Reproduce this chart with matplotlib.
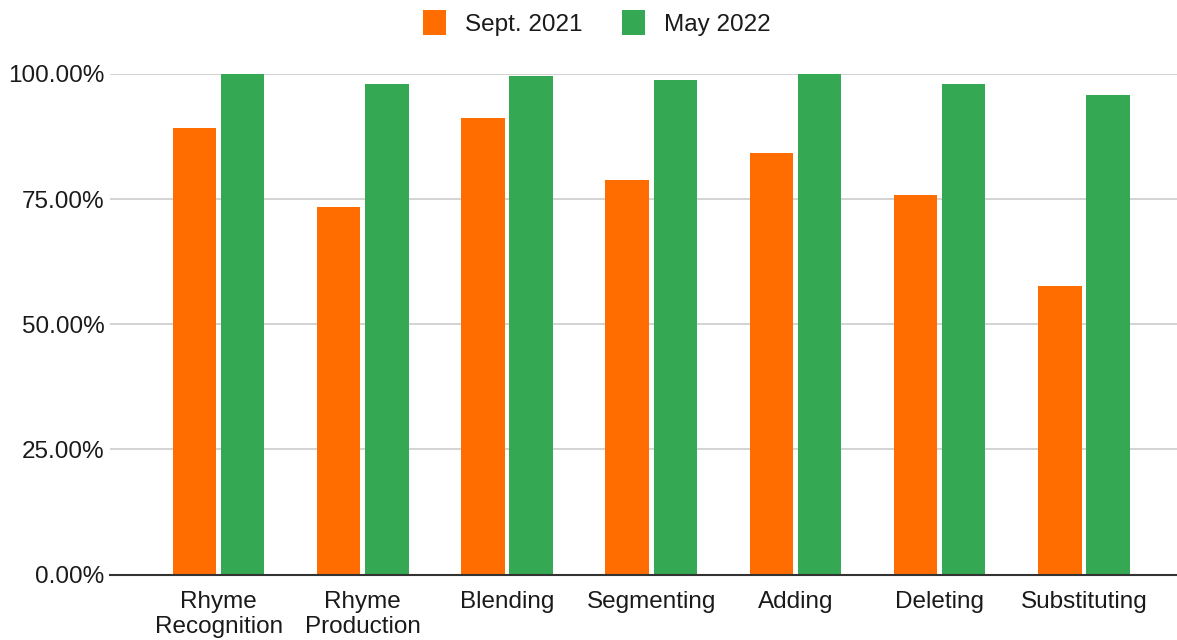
import matplotlib
matplotlib.use("Agg")
import matplotlib.pyplot as plt
import numpy as np
from matplotlib.ticker import FuncFormatter

categories = ["Rhyme\nRecognition", "Rhyme\nProduction", "Blending", "Segmenting",
              "Adding", "Deleting", "Substituting"]
sept_2021 = [89.2, 73.5, 91.2, 78.8, 84.2, 75.8, 57.7]
may_2022 = [100.0, 98.0, 99.6, 98.8, 100.0, 98.0, 95.8]
series_names = ["Sept. 2021", "May 2022"]
yticks = [0, 25, 50, 75, 100]

orange = "#FF6D01"
green = "#34A853"

plt.rcParams['font.family'] = ['Liberation Sans', 'DejaVu Sans']

fig = plt.figure(figsize=(11.77, 6.4), dpi=100)
ax = fig.add_axes([110/1177, 65.5/640, 1 - 110/1177, (574.5-74)/640])

x = np.arange(len(categories))
w = 0.302
off = 0.167
ax.bar(x - off, sept_2021, w, color=orange, label=series_names[0], zorder=3)
ax.bar(x + off, may_2022, w, color=green, label=series_names[1], zorder=3)

ax.set_xlim(-0.753, 6.646)
ax.set_ylim(0, 100)
ax.set_yticks(yticks)
ax.yaxis.set_major_formatter(FuncFormatter(lambda v, p: f"{v:.2f}%"))
ax.set_xticks(x)
ax.set_xticklabels(categories, linespacing=1.17)
ax.tick_params(axis='both', length=0, labelsize=17.5, colors="#1a1a1a")
ax.tick_params(axis='y', pad=4)
ax.tick_params(axis='x', pad=12)

ax.grid(axis='y', color="#cccccc", linewidth=1.2, zorder=0)
for s in ["top", "right", "left"]:
    ax.spines[s].set_visible(False)
ax.spines["bottom"].set_color("#333333")
ax.spines["bottom"].set_linewidth(1.5)
ax.spines["bottom"].set_zorder(4)

leg = fig.legend(loc="upper center", bbox_to_anchor=(597/1177, 1.018), ncol=2, frameon=False,
                 fontsize=17.5, handlelength=0.95, handleheight=1.2, columnspacing=1.6,
                 handletextpad=0.8)
for t in leg.get_texts():
    t.set_color("#1a1a1a")

fig.savefig("out.png", dpi=100)
